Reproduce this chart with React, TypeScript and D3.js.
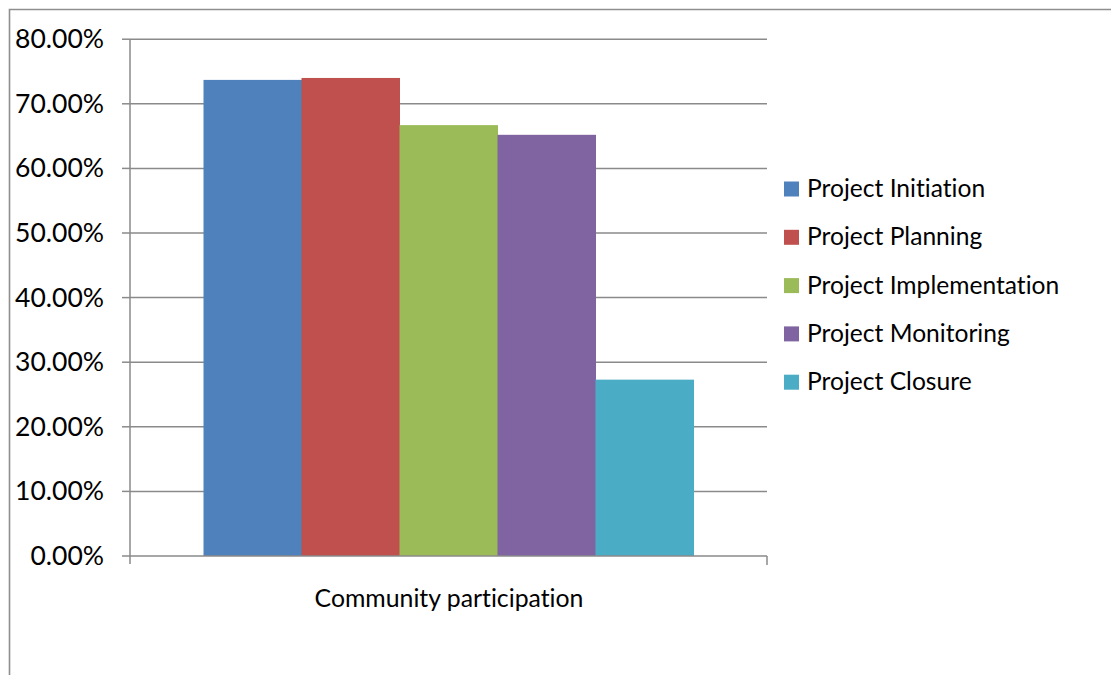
import React from "react";
import * as d3 from "d3";

const categories = ["Community participation"];
const seriesNames = [
  "Project Initiation",
  "Project Planning",
  "Project Implementation",
  "Project Monitoring",
  "Project Closure",
];
const seriesValues = [0.737, 0.74, 0.667, 0.652, 0.273];
const seriesColors = ["#4F81BD", "#C0504D", "#9BBB59", "#8064A2", "#4BACC6"];
const yTicks = [0, 0.1, 0.2, 0.3, 0.4, 0.5, 0.6, 0.7, 0.8];

const FONT = "Lato, 'Liberation Sans', sans-serif";
const textStyle = { fontVariantLigatures: "none" as const };

export default function App() {
  const left = 130;
  const right = 767;
  const top = 39.2;
  const bottom = 556;

  const y = d3.scaleLinear().domain([0, 0.8]).range([bottom, top]);
  const x0 = d3.scaleBand().domain(categories).range([left, right]).paddingInner(0).paddingOuter(0);
  const groupW = x0.bandwidth();
  // gap width 150% of bar width: 5 bars + 1.5 bars gap
  const barW = groupW / (seriesNames.length + 1.5);
  const x1 = d3
    .scaleBand()
    .domain(seriesNames)
    .range([0.75 * barW, 0.75 * barW + barW * seriesNames.length]);

  const fmt = (v: number) => (v * 100).toFixed(2) + "%";
  const gridColor = "#8a8a8a";

  const legendX = 784;
  const legendY0 = 189;
  const legendStep = 48.3;

  return (
    <svg
      width={1111}
      height={675}
      style={{ position: "absolute", left: 0, top: 0, background: "#fff" }}
    >
      <rect x={0} y={0} width={1111} height={675} fill="#fff" />
      {/* outer frame */}
      <path d="M9.5,675 L9.5,9.5 L1111,9.5" fill="none" stroke="#8e8e8e" strokeWidth={1.6} />

      {/* gridlines */}
      {yTicks.map((t) => (
        <g key={t}>
          {t > 0 && (
            <line x1={left} x2={right} y1={y(t)} y2={y(t)} stroke={gridColor} strokeWidth={1.5} />
          )}
          <line x1={122} x2={left} y1={y(t)} y2={y(t)} stroke={gridColor} strokeWidth={1.5} />
          <text
            x={104}
            y={y(t) + 9}
            textAnchor="end"
            fontFamily={FONT}
            fontSize={26.5}
            fill="#000"
            style={textStyle}
          >
            {fmt(t)}
          </text>
        </g>
      ))}

      {/* bars */}
      {categories.map((c) => (
        <g key={c} transform={`translate(${x0(c)},0)`}>
          {seriesNames.map((s, i) => (
            <rect
              key={s}
              x={x1(s)}
              y={y(seriesValues[i])}
              width={x1.bandwidth() + 0.5}
              height={bottom - y(seriesValues[i])}
              fill={seriesColors[i]}
            />
          ))}
        </g>
      ))}

      {/* axes */}
      <line x1={left} x2={left} y1={top} y2={564} stroke={gridColor} strokeWidth={1.5} />
      <line x1={left} x2={right} y1={bottom} y2={bottom} stroke={gridColor} strokeWidth={1.5} />
      <line x1={right} x2={right} y1={bottom} y2={565} stroke={gridColor} strokeWidth={1.5} />

      {categories.map((c) => (
        <text
          key={c}
          x={(x0(c) as number) + groupW / 2 + 0.5}
          y={607}
          textAnchor="middle"
          fontFamily={FONT}
          fontSize={24.8}
          fill="#000"
          style={textStyle}
        >
          {c}
        </text>
      ))}

      {/* legend */}
      {seriesNames.map((s, i) => (
        <g key={s} transform={`translate(${legendX},${legendY0 + i * legendStep})`}>
          <rect x={0} y={-7.5} width={15} height={15} fill={seriesColors[i]} />
          <text x={23} y={8} fontFamily={FONT} fontSize={24.6} fill="#000" style={textStyle}>
            {s}
          </text>
        </g>
      ))}
    </svg>
  );
}
